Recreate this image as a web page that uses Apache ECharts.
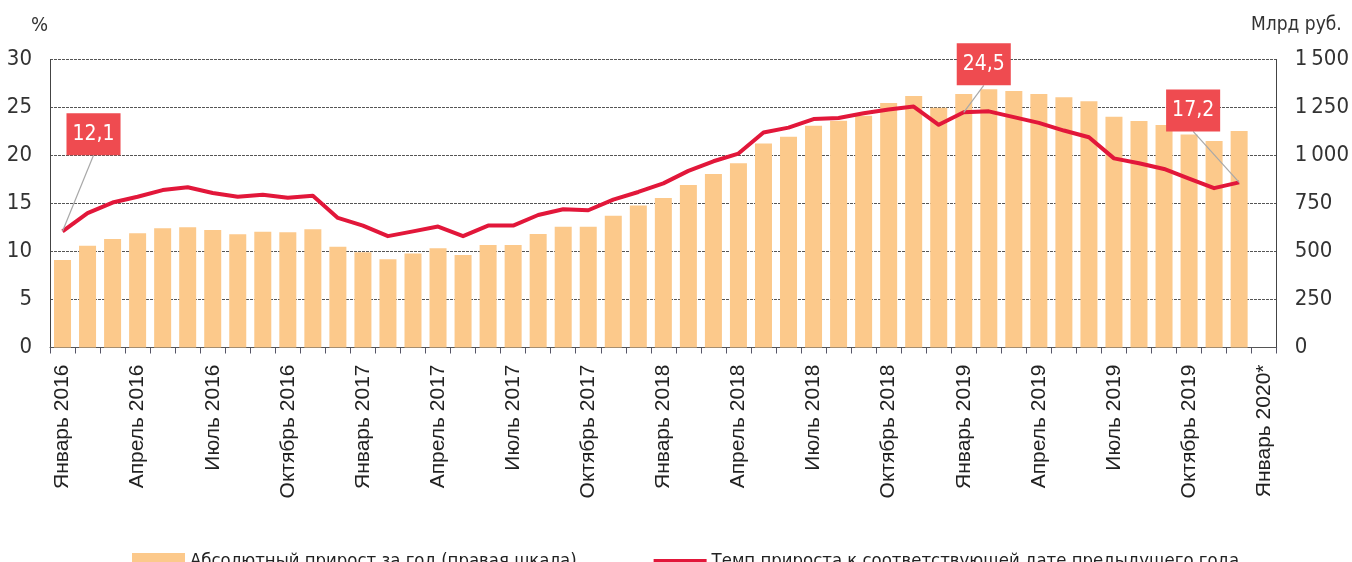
<!DOCTYPE html>
<html>
<head>
<meta charset="utf-8">
<script src="https://cdn.jsdelivr.net/npm/echarts@6/dist/echarts.min.js"></script>
<style>
html,body{margin:0;padding:0;background:#fff;}
#chart{width:1352px;height:562px;}
</style>
</head>
<body>
<div id="chart"></div>
<script>
const months = ['Январь','Февраль','Март','Апрель','Май','Июнь','Июль','Август','Сентябрь','Октябрь','Ноябрь','Декабрь'];
const years = [2016, 2017, 2018, 2019];
const lastCategory = 'Январь 2020*';
const categories = [];
years.forEach(y => months.forEach(m => categories.push(m + ' ' + y)));
categories.push(lastCategory);

// Абсолютный прирост за год, млрд руб. (правая шкала)
const absoluteGrowth = [456,530,565,595,621,626,612,590,603,600,616,525,
  496,459,490,517,482,534,534,591,629,629,686,739,
  779,846,904,959,1063,1098,1155,1181,1207,1273,1310,1249,
  1320,1345,1336,1320,1303,1282,1202,1180,1159,1110,1075,1128];
// Темп прироста к соответствующей дате предыдущего года, %
const growthRate = [12.1,14.0,15.1,15.7,16.4,16.7,16.1,15.7,15.9,15.6,15.8,13.5,
  12.7,11.6,12.1,12.6,11.6,12.7,12.7,13.8,14.4,14.3,15.4,16.2,
  17.1,18.4,19.4,20.2,22.4,22.9,23.8,23.9,24.4,24.8,25.1,23.2,
  24.5,24.6,24.0,23.4,22.6,21.9,19.7,19.2,18.6,17.6,16.6,17.2];
const labelledPoints = [0, 36, 47];

const leftTicks = [0, 5, 10, 15, 20, 25, 30];
const rightTicks = [0, 250, 500, 750, 1000, 1250, 1500];

const NARROW = "'Liberation Sans Narrow','DejaVu Sans Condensed','Roboto',sans-serif";
const RED = '#E2173A';
const LABEL_BG = '#EF4B50';
const labelOffsets = {0: [31, -71], 36: [20, -22], 47: [-46, -46]};

const lineData = growthRate.map((v, i) => {
  if (labelledPoints.indexOf(i) >= 0) {
    return {
      value: v,
      label: {
        show: true, position: 'top', distance: 5,
        formatter: p => String(p.value).replace('.', ','),
        backgroundColor: LABEL_BG, color: '#fff',
        fontFamily: NARROW, fontSize: 21, padding: [10, 6, 10, 6], lineHeight: 22
      },
      labelLine: {show: true, lineStyle: {color: '#a8a8a8', width: 1.2}}
    };
  }
  return v;
});

const chart = echarts.init(document.getElementById('chart'), null, {renderer: 'canvas'});
chart.setOption({
  animation: false,
  backgroundColor: '#fff',
  title: [
    {text: '%', left: 26, top: 11, textStyle: {fontFamily: NARROW, fontSize: 20, fontWeight: 'normal', color: '#333'}},
    {text: 'Млрд руб.', left: 1246, top: 11, textStyle: {fontFamily: NARROW, fontSize: 19, fontWeight: 'normal', color: '#333'}}
  ],
  grid: {left: 50, right: 68, top: 59.5, bottom: 214.5, containLabel: false},
  legend: {
    left: 127, top: 547, width: 1220, itemWidth: 53, itemHeight: 16, itemGap: 77,
    textStyle: {fontFamily: NARROW, fontSize: 18.4, color: '#222'},
    data: [
      {name: 'Абсолютный прирост за год (правая шкала)', icon: 'rect'},
      {name: 'Темп прироста к соответствующей дате предыдущего года', icon: 'path://M0,0 H52 V4 H0 Z'}
    ]
  },
  xAxis: {
    type: 'category', data: categories, boundaryGap: true,
    axisLine: {show: true, lineStyle: {color: '#555', width: 1}},
    axisTick: {show: true, interval: 0, length: 6, lineStyle: {color: '#556'}},
    axisLabel: {interval: 2, rotate: 90, margin: 17, fontFamily: "'Liberation Sans',Arial,sans-serif", fontSize: 21, color: '#222'},
    splitLine: {show: false}
  },
  yAxis: [
    {
      type: 'value', min: 0, max: 30, interval: 5, position: 'left',
      axisLine: {show: true, lineStyle: {color: '#444', width: 1}},
      axisTick: {show: false},
      axisLabel: {margin: 18, fontFamily: NARROW, fontSize: 22, color: '#333',
        formatter: v => leftTicks.indexOf(v) >= 0 ? String(v) : ''},
      splitLine: {show: true, lineStyle: {color: '#555', width: 1, type: [3, 1]}}
    },
    {
      type: 'value', min: 0, max: 1500, interval: 250, position: 'right',
      axisLine: {show: true, lineStyle: {color: '#444', width: 1}},
      axisTick: {show: false},
      axisLabel: {margin: 18, fontFamily: NARROW, fontSize: 22, color: '#333',
        formatter: v => rightTicks.indexOf(v) >= 0 ? (v >= 1000 ? String(v).replace(/^(\d)(\d{3})$/, '$1\u2009$2') : String(v)) : ''},
      splitLine: {show: false}
    }
  ],
  series: [
    {
      name: 'Абсолютный прирост за год (правая шкала)', type: 'bar', yAxisIndex: 1,
      data: absoluteGrowth, barWidth: 17,
      itemStyle: {color: '#FCC98B'}, z: 1
    },
    {
      name: 'Темп прироста к соответствующей дате предыдущего года', type: 'line', yAxisIndex: 0,
      data: lineData, symbol: 'circle', symbolSize: 0.01, showSymbol: true,
      lineStyle: {color: RED, width: 4, join: 'round'},
      itemStyle: {color: RED},
      label: {show: false},
      labelLayout: function (p) {
        const o = labelOffsets[p.dataIndex];
        return o ? {dx: o[0], dy: o[1]} : {};
      },
      z: 3
    }
  ]
});
</script>
</body>
</html>
